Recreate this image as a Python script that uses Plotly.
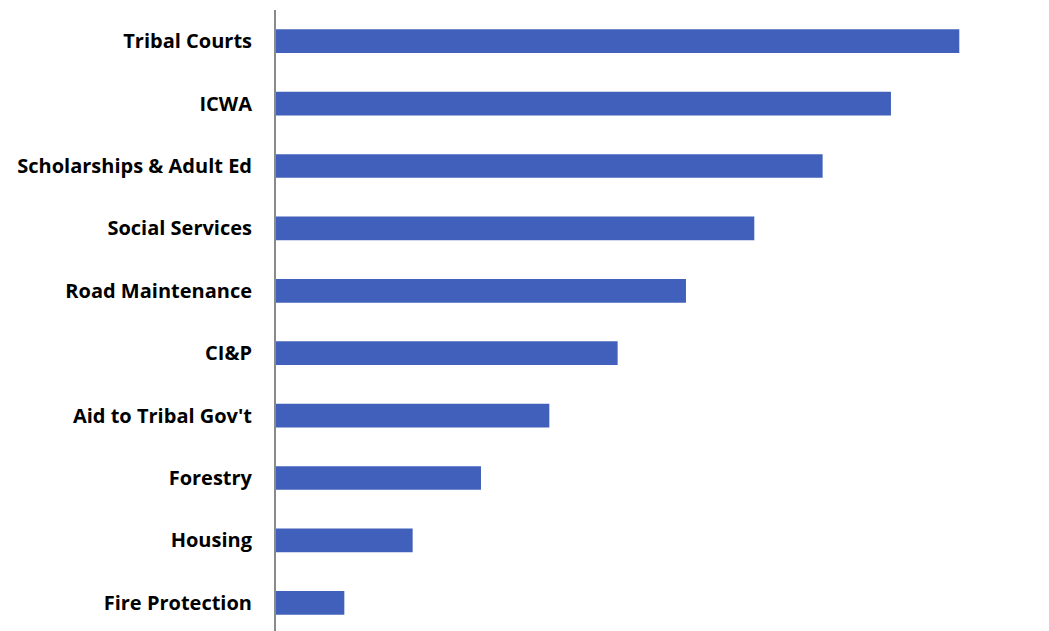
import plotly.graph_objects as go

categories = ["Tribal Courts", "ICWA", "Scholarships & Adult Ed", "Social Services",
              "Road Maintenance", "CI&P", "Aid to Tribal Gov't", "Forestry",
              "Housing", "Fire Protection"]
values = [10, 9, 8, 7, 6, 5, 4, 3, 2, 1]

fig = go.Figure(go.Bar(
    x=values, y=categories, orientation="h",
    marker=dict(color="#4160bb", line=dict(width=0)),
    width=0.38,
))

fig.update_layout(
    width=1049, height=631,
    margin=dict(l=268, r=0, t=2, b=0),
    paper_bgcolor="white", plot_bgcolor="white",
    showlegend=False,
    font=dict(family="Open Sans", size=20, color="black"),
)
fig.update_xaxes(range=[0, 11.43], showticklabels=False, showgrid=False,
                 zeroline=False, showline=False)
fig.update_yaxes(range=[9.58, -0.5], showgrid=False, zeroline=False,
                 showline=True, linecolor="#8a8a8a", linewidth=2,
                 ticks="", ticklabelstandoff=18,
                 tickfont=dict(family="Open Sans", size=20, color="black", weight="bold"))

fig.write_html("out.html")
